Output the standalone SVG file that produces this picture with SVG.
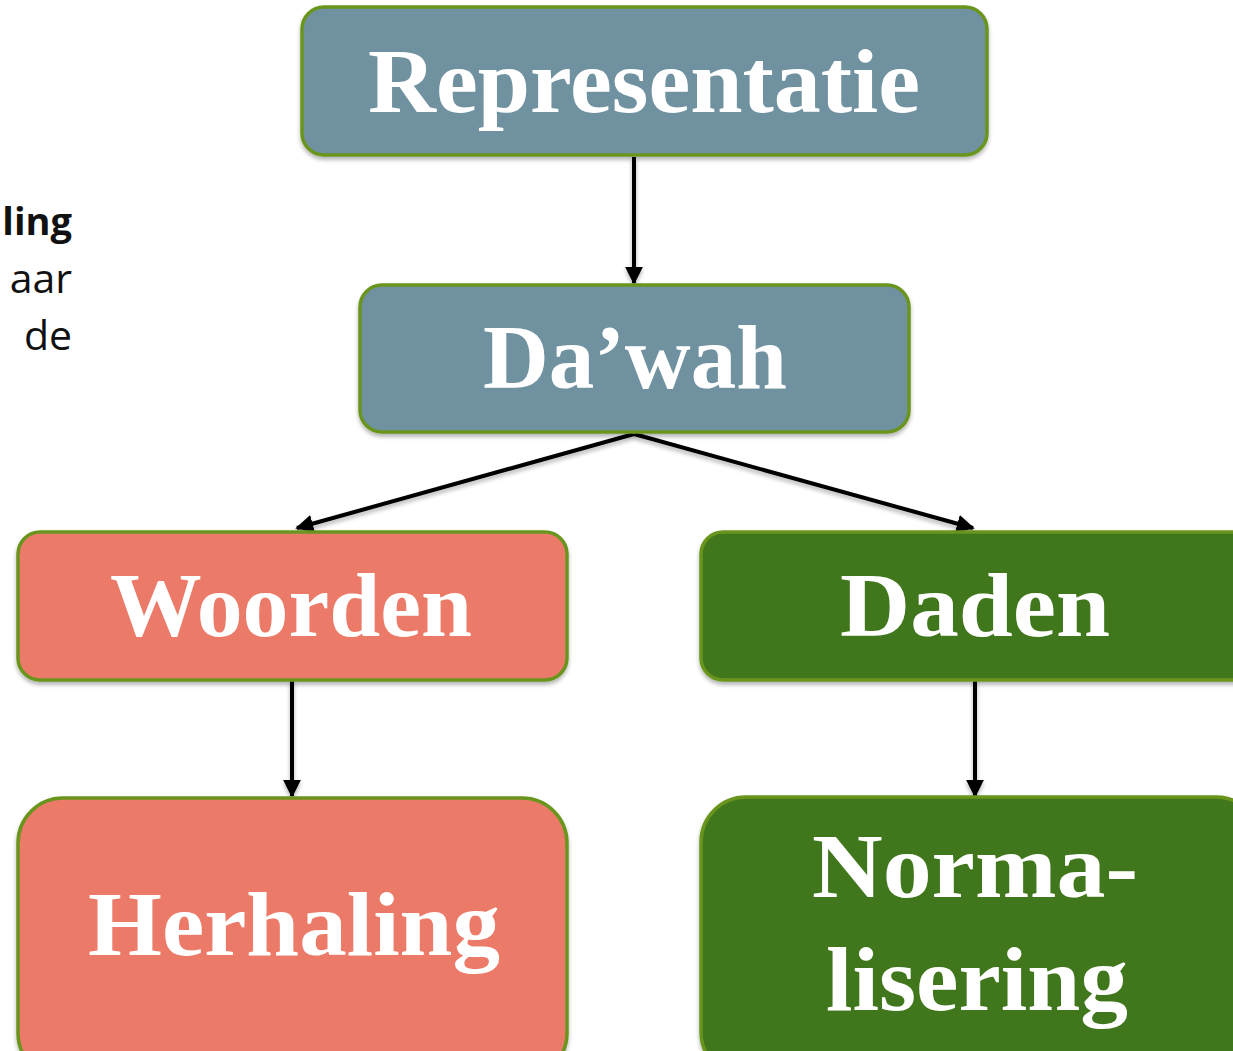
<svg xmlns="http://www.w3.org/2000/svg" width="1233" height="1051" viewBox="0 0 1233 1051">
<defs>
<marker id="arr" viewBox="0 0 10 10" refX="9" refY="5" markerWidth="4.5" markerHeight="4.5" orient="auto" markerUnits="strokeWidth">
<path d="M0,0 L10,5 L0,10 z" fill="#000"/>
</marker>
<filter id="sh" x="-10%" y="-10%" width="120%" height="130%">
<feGaussianBlur in="SourceAlpha" stdDeviation="2"/>
<feOffset dx="0" dy="3" result="b"/>
<feComponentTransfer><feFuncA type="linear" slope="0.3"/></feComponentTransfer>
<feMerge><feMergeNode/><feMergeNode in="SourceGraphic"/></feMerge>
</filter>
</defs>
<style>
.box{stroke:#6B951F;stroke-width:3.5}
.blue{fill:#6F91A0}
.red{fill:#EC7A67}
.green{fill:#41771C}
.lbl{font-family:"Liberation Serif",serif;font-weight:bold;fill:#fff;text-anchor:middle;font-size:92px}
.side{font-family:"Open Sans","Liberation Sans",sans-serif;font-size:41px;fill:#111;text-anchor:end}
.conn{stroke:#000;stroke-width:4;fill:none;marker-end:url(#arr)}
</style>
<g id="sidetext">
<text class="side" x="72" y="235" style="font-weight:bold;font-size:38px">ling</text>
<text class="side" x="72" y="293">aar</text>
<text class="side" x="72" y="350">de</text>
</g>
<g id="connectors" filter="url(#sh)">
<line class="conn" x1="634" y1="157" x2="634" y2="283"/>
<line class="conn" x1="634" y1="434" x2="297" y2="528"/>
<line class="conn" x1="634" y1="434" x2="973" y2="528"/>
<line class="conn" x1="292" y1="680" x2="292" y2="796"/>
<line class="conn" x1="975" y1="680" x2="975" y2="796"/>
</g>
<g id="representatie" filter="url(#sh)">
<rect class="box blue" x="302" y="7" width="685" height="148" rx="22"/>
<text class="lbl" x="644" y="112" textLength="552" lengthAdjust="spacingAndGlyphs">Representatie</text>
</g>
<g id="dawah" filter="url(#sh)">
<rect class="box blue" x="360" y="285" width="549" height="147" rx="22"/>
<text class="lbl" x="635" y="388" textLength="304" lengthAdjust="spacingAndGlyphs">Da’wah</text>
</g>
<g id="woorden" filter="url(#sh)">
<rect class="box red" x="18" y="532" width="549" height="148" rx="22"/>
<text class="lbl" x="291" y="636" textLength="362" lengthAdjust="spacingAndGlyphs">Woorden</text>
</g>
<g id="daden" filter="url(#sh)">
<rect class="box green" x="701" y="532" width="560" height="148" rx="22"/>
<text class="lbl" x="975" y="636" textLength="270" lengthAdjust="spacingAndGlyphs">Daden</text>
</g>
<g id="herhaling" filter="url(#sh)">
<rect class="box red" x="18" y="798" width="549" height="280" rx="45"/>
<text class="lbl" x="294" y="955" textLength="412" lengthAdjust="spacingAndGlyphs">Herhaling</text>
</g>
<g id="normalisering" filter="url(#sh)">
<rect class="box green" x="701" y="797" width="560" height="280" rx="45"/>
<text class="lbl" x="975" y="897" textLength="326" lengthAdjust="spacingAndGlyphs">Norma-</text>
<text class="lbl" x="977" y="1010" textLength="302" lengthAdjust="spacingAndGlyphs">lisering</text>
</g>
</svg>
